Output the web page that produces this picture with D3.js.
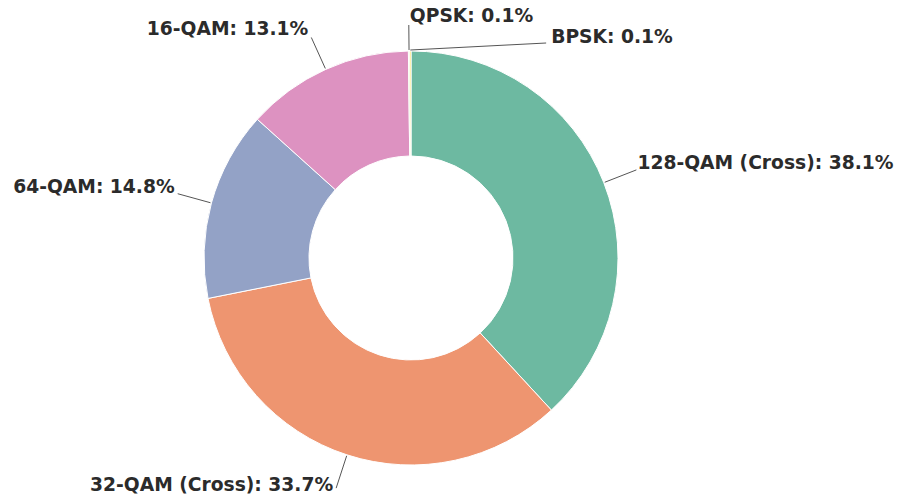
<!DOCTYPE html>
<html>
<head>
<meta charset="utf-8">
<script src="https://cdn.jsdelivr.net/npm/d3@7"></script>
<style>
  body { margin: 0; background: #fff; }
  text { font-family: "DejaVu Sans", Verdana, sans-serif; font-weight: bold; }
</style>
</head>
<body>
<div id="holder"></div>
<script>
const w = 904;
const h = 500;

// DATA
const names = ["128-QAM (Cross)", "32-QAM (Cross)", "64-QAM", "16-QAM", "QPSK", "BPSK"];
const shares = [38.1, 33.7, 14.8, 13.1, 0.1, 0.1];
const colors = ["#6db9a1", "#ee9570", "#93a2c6", "#dd92c1", "#a6d854", "#ffd92f"];

const data = names.map((n, i) => ({ name: n, value: shares[i], color: colors[i] }));

const cx = 411, cy = 258;
const outerR = 207, innerR = 102;
const lineR = 242;
const fontSize = 18.7;

// CREATE SVG
const svg = d3.select("#holder")
    .append("svg")
    .attr("width", w)
    .attr("height", h);

const g = svg.append("g").attr("transform", "translate(" + cx + "," + cy + ")");

const pie = d3.pie().sort(null).value(d => d.value);
const arcs = pie(data);

const arc = d3.arc().innerRadius(innerR).outerRadius(outerR);

// SLICES
g.selectAll("path.slice")
    .data(arcs)
    .enter()
    .append("path")
    .attr("class", "slice")
    .attr("d", arc)
    .attr("fill", d => d.data.color)
    .attr("stroke", "#fff")
    .attr("stroke-width", 1);

// LABEL LAYOUT
let labels = arcs.map(d => {
    const a = (d.startAngle + d.endAngle) / 2;
    const dx = Math.sin(a), dy = -Math.cos(a);
    let ex = dx * lineR, ey = dy * lineR;
    // keep the text inside the top edge
    if (cy + ey < 25) {
        const k = (25 - cy) / ey;
        ex *= k; ey *= k;
    }
    return {
        text: d.data.name + ": " + d.data.value.toFixed(1) + "%",
        sx: dx * (outerR + 1), sy: dy * (outerR + 1),
        ex: ex, ey: ey,
        dirY: dy,
        right: dx >= -0.01
    };
});

// measure text
const measure = svg.append("text").style("font-size", fontSize + "px");
labels.forEach(l => {
    measure.text(l.text);
    l.width = measure.node().getComputedTextLength();
});
measure.remove();

// simple collision fix: push an overlapping label to the right of the one before it
for (let i = 1; i < labels.length; i++) {
    const p = labels[i - 1], l = labels[i];
    const px0 = p.right ? p.ex + 1 : p.ex - 3 - p.width;
    const lx0 = l.right ? l.ex + 1 : l.ex - 3 - l.width;
    if (Math.abs(p.ey - l.ey) < fontSize && lx0 < px0 + p.width && lx0 + l.width > px0) {
        l.right = true;
        l.ex = px0 + p.width + 13;
        l.ey = p.ey + 18;
        l.dirY = 0;
        l.shifted = true;
    }
}

// LEADER LINES
g.selectAll("line.leader")
    .data(labels)
    .enter()
    .append("line")
    .attr("class", "leader")
    .attr("x1", d => d.sx)
    .attr("y1", d => d.sy)
    .attr("x2", d => d.ex)
    .attr("y2", d => d.ey)
    .attr("stroke", "#555")
    .attr("stroke-width", 1);

// LABEL TEXT
g.selectAll("text.label")
    .data(labels)
    .enter()
    .append("text")
    .attr("class", "label")
    .attr("x", d => d.right ? d.ex + (d.shifted ? 5 : 1) : d.ex - 3)
    .attr("y", d => d.ey + 3 * d.dirY)
    .attr("text-anchor", d => d.right ? "start" : "end")
    .style("font-size", fontSize + "px")
    .attr("fill", "#2b2b2b")
    .text(d => d.text);
</script>
</body>
</html>
